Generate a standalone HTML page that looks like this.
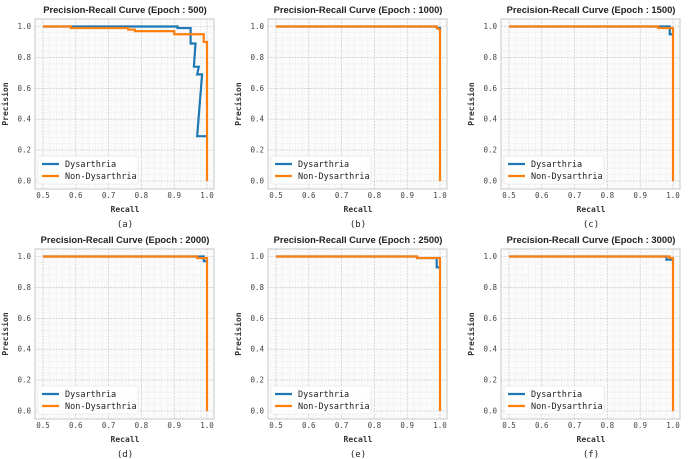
<!DOCTYPE html>
<html><head><meta charset="utf-8"><style>
body{margin:0;background:#fff;}
svg{display:block;}
.t{font-family:"Liberation Sans",sans-serif;font-weight:bold;font-size:9.4px;fill:#222;}
.k{font-family:"DejaVu Sans Mono",monospace;font-size:7.5px;fill:#444;}
.l{font-family:"DejaVu Sans Mono",monospace;font-size:8px;fill:#333;font-weight:bold;}
.g{font-family:"DejaVu Sans Mono",monospace;font-size:9px;fill:#222;}
</style></head><body>
<svg id="c" width="700" height="459" viewBox="0 0 700 459" xmlns="http://www.w3.org/2000/svg"></svg>
<script>
const epochs = [500, 1000, 1500, 2000, 2500, 3000];
const subLabels = ["(a)", "(b)", "(c)", "(d)", "(e)", "(f)"];
const xTicks = [0.5, 0.6, 0.7, 0.8, 0.9, 1.0];
const yTicks = [0.0, 0.2, 0.4, 0.6, 0.8, 1.0];
const seriesNames = ["Dysarthria", "Non-Dysarthria"];
const dysRecall = [
 [0.5,0.91,0.91,0.95,0.95,0.965,0.96,0.975,0.97,0.985,0.97,1.0],
 [0.5,0.99,0.99,1.0,1.0],
 [0.5,0.99,0.99,1.0],
 [0.5,0.99,0.99,1.0],
 [0.5,0.93,0.93,0.99,0.99,1.0],
 [0.5,0.98,0.98,1.0]
];
const dysPrecision = [
 [1.0,1.0,0.99,0.99,0.89,0.89,0.74,0.74,0.69,0.69,0.29,0.29],
 [1.0,1.0,0.99,0.99,0.98],
 [1.0,1.0,0.95,0.95],
 [1.0,1.0,0.97,0.97],
 [1.0,1.0,0.99,0.99,0.93,0.93],
 [1.0,1.0,0.98,0.98]
];
const nonRecall = [
 [0.5,0.585,0.585,0.76,0.76,0.78,0.78,0.9,0.9,0.99,0.99,1.0,1.0],
 [0.5,0.99,0.99,1.0,1.0],
 [0.5,0.955,0.955,1.0,1.0],
 [0.5,0.97,0.97,1.0,1.0],
 [0.5,0.93,0.93,1.0,1.0],
 [0.5,0.99,0.99,1.0,1.0]
];
const nonPrecision = [
 [1.0,1.0,0.99,0.99,0.98,0.98,0.97,0.97,0.95,0.95,0.9,0.9,0.0],
 [1.0,1.0,0.99,0.98,0.0],
 [1.0,1.0,0.99,0.99,0.0],
 [1.0,1.0,0.99,0.99,0.0],
 [1.0,1.0,0.99,0.99,0.0],
 [1.0,1.0,0.99,0.99,0.0]
];
const svg = document.getElementById('c');
const NS = 'http://www.w3.org/2000/svg';
function mk(tag, attrs, parent, text){
  const e = document.createElementNS(NS, tag);
  for (const a in attrs) e.setAttribute(a, attrs[a]);
  if (text !== undefined) e.textContent = text;
  parent.appendChild(e);
  return e;
}
const colOff = [0, 233, 466];
const rowOff = [0, 230];
for (let p = 0; p < 6; p++) {
  const ox = colOff[p % 3], oy = rowOff[Math.floor(p / 3)];
  const sx = v => ox + 43 + (v - 0.5) / 0.5 * 164;
  const sy = v => oy + 181 - v * 154.5;
  const g = mk('g', {}, svg);
  
  
  const L = ox + 35, R = ox + 214, T = oy + 19, B = oy + 189;
  const bg = mk('rect', {x: L, y: T, width: R - L, height: B - T, fill: '#fbfbfb', stroke: '#d0d0d0', 'stroke-width': 1.2}, g);
  
  
  for (let v = 0.5; v <= 1.0001; v += 0.02) mk('line', {x1: sx(v), x2: sx(v), y1: T, y2: B, stroke: '#eee', 'stroke-width': 0.5}, g);
  for (let v = 0; v <= 1.0001; v += 0.04) mk('line', {x1: L, x2: R, y1: sy(v), y2: sy(v), stroke: '#eee', 'stroke-width': 0.5}, g);
  xTicks.forEach(v => {
    mk('line', {x1: sx(v), x2: sx(v), y1: T, y2: B, stroke: '#bbb', 'stroke-width': 0.6, 'stroke-dasharray': '1.5,1.5'}, g);
    const t = mk('text', {x: sx(v), y: B + 9, 'text-anchor': 'middle', class: 'k'}, g, v.toFixed(1));
    
    
  });
  yTicks.forEach(v => {
    mk('line', {x1: L, x2: R, y1: sy(v), y2: sy(v), stroke: '#bbb', 'stroke-width': 0.6, 'stroke-dasharray': '1.5,1.5'}, g);
    const t = mk('text', {x: L - 4, y: sy(v) + 2.5, 'text-anchor': 'end', class: 'k'}, g, v.toFixed(1));
    
    
  });
  const title = mk('text', {x: ox + 125, y: oy + 13, 'text-anchor': 'middle', class: 't'}, g, 'Precision-Recall Curve (Epoch : ' + epochs[p] + ')');
  
  
  const xl = mk('text', {x: ox + 125, y: oy + 212, 'text-anchor': 'middle', class: 'l'}, g, 'Recall');
  
  
  const yl = mk('text', {x: ox + 8, y: oy + 104, 'text-anchor': 'middle', class: 'l', transform: 'rotate(-90 ' + (ox + 8) + ' ' + (oy + 104) + ')'}, g, 'Precision');
  
  
  const sl = mk('text', {x: ox + 125, y: oy + 227, 'text-anchor': 'middle', class: 'g'}, g, subLabels[p]);
  
  
  const d1 = dysRecall[p].map((r, i) => (i ? 'L' : 'M') + sx(r) + ',' + sy(dysPrecision[p][i])).join('');
  const l1 = mk('path', {d: d1, fill: 'none', stroke: '#1f77b4', 'stroke-width': 2.2}, g);
  
  
  const d2 = nonRecall[p].map((r, i) => (i ? 'L' : 'M') + sx(r) + ',' + sy(nonPrecision[p][i])).join('');
  const l2 = mk('path', {d: d2, fill: 'none', stroke: '#ff7f0e', 'stroke-width': 2.2}, g);
  
  
  const lg = mk('g', {}, g);
  
  
  mk('rect', {x: ox + 38, y: oy + 156, width: 100, height: 28, fill: '#fff', 'fill-opacity': 0.85, stroke: '#e0e0e0', 'stroke-width': 0.6, rx: 2}, lg);
  const cols = ['#1f77b4', '#ff7f0e'];
  seriesNames.forEach((n, i) => {
    const yy = oy + 164 + i * 12;
    mk('line', {x1: ox + 42, x2: ox + 59, y1: yy, y2: yy, stroke: cols[i], 'stroke-width': 2.2}, lg);
    const e = mk('text', {x: ox + 65, y: yy + 3, class: 'g', style: 'font-size:8.5px'}, lg, n);
    
    
  });
}
</script>
</body></html>
